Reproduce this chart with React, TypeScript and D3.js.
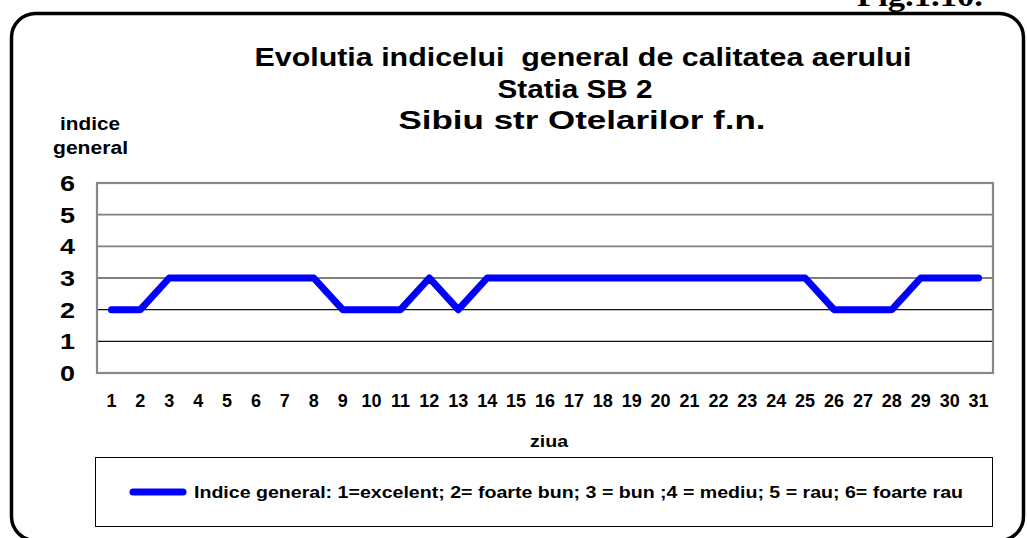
import React from "react";
import * as d3 from "d3";

const days: number[] = Array.from({ length: 31 }, (_, i) => i + 1);
const indexValues: number[] = [2, 2, 3, 3, 3, 3, 3, 3, 2, 2, 2, 3, 2, 3, 3, 3, 3, 3, 3, 3, 3, 3, 3, 3, 3, 2, 2, 2, 3, 3, 3];
const yTicks: number[] = [0, 1, 2, 3, 4, 5, 6];
const titleLines: string[] = [
  "Evolutia indicelui  general de calitatea aerului",
  "Statia SB 2",
  "Sibiu str Otelarilor f.n.",
];
const titleLengths: number[] = [657, 155, 367];
const titleCenters: number[] = [583, 575, 582];
const legendLabel = "Indice general: 1=excelent; 2= foarte bun; 3 = bun ;4 = mediu; 5 = rau; 6= foarte rau";

const W = 1027;
const H = 538;
const plot = { left: 97, right: 993, top: 183, bottom: 373 };
const FONT = "'Liberation Sans', Arial, sans-serif";

export default function App() {
  const x = d3
    .scaleBand<number>()
    .domain(days)
    .range([plot.left, plot.right]);
  const y = d3.scaleLinear().domain([0, 6]).range([plot.bottom, plot.top]);
  const line = d3
    .line<number>()
    .x((_, i) => (x(days[i]) as number) + x.bandwidth() / 2)
    .y((d) => y(d));

  return (
    <svg width={W} height={H} style={{ position: "absolute", left: 0, top: 0, background: "#fff" }}>
      <rect x={0} y={0} width={W} height={H} fill="#fff" />
      {/* outer rounded frame */}
      <rect x={11.5} y={13.5} width={1012} height={527} rx={24} ry={24} fill="none" stroke="#000" strokeWidth={3.5} />
      <text x={920} y={6} textAnchor="middle" textLength={126} lengthAdjust="spacingAndGlyphs" fontFamily="'Liberation Serif', 'Times New Roman', serif" fontWeight="bold" fontSize={30} fill="#000">
        Fig.1.10.
      </text>

      {/* title */}
      {titleLines.map((t, i) => (
        <text key={i} x={titleCenters[i]} y={66 + i * 31.5} textAnchor="middle" textLength={titleLengths[i]} lengthAdjust="spacingAndGlyphs" fontFamily={FONT} fontWeight="bold" fontSize={25} fill="#000" style={{ whiteSpace: "pre" }}>
          {t}
        </text>
      ))}

      {/* y axis title */}
      <text x={90} y={130} textAnchor="middle" textLength={60} lengthAdjust="spacingAndGlyphs" fontFamily={FONT} fontWeight="bold" fontSize={18}>indice</text>
      <text x={90.5} y={154} textAnchor="middle" textLength={75} lengthAdjust="spacingAndGlyphs" fontFamily={FONT} fontWeight="bold" fontSize={18}>general</text>

      {/* gridlines */}
      {yTicks.filter((t) => t > 0 && t < 6).map((t) => (
        <line key={t} x1={plot.left} x2={plot.right} y1={y(t)} y2={y(t)} stroke={t <= 2 ? "#111" : "#808080"} strokeWidth={t <= 2 ? 1.2 : 1.8} />
      ))}
      <rect x={plot.left} y={plot.top} width={plot.right - plot.left} height={plot.bottom - plot.top} fill="none" stroke="#888" strokeWidth={2.2} />

      {/* y tick labels */}
      {yTicks.map((t) => (
        <text key={t} x={67.5} y={y(t) + 8} textAnchor="middle" textLength={15} lengthAdjust="spacingAndGlyphs" fontFamily={FONT} fontWeight="bold" fontSize={22}>
          {t}
        </text>
      ))}

      {/* x tick labels */}
      {days.map((d) => (
        <text key={d} x={(x(d) as number) + x.bandwidth() / 2} y={407} textAnchor="middle" fontFamily={FONT} fontWeight="bold" fontSize={18}>
          {d}
        </text>
      ))}

      <text x={549} y={447} textAnchor="middle" textLength={38} lengthAdjust="spacingAndGlyphs" fontFamily={FONT} fontWeight="bold" fontSize={17}>ziua</text>

      {/* data line */}
      <path d={line(indexValues) || ""} fill="none" stroke="#0000ff" strokeWidth={7} strokeLinejoin="round" strokeLinecap="round" />

      {/* legend */}
      <rect x={95.5} y={457.5} width={897} height={69} fill="#fff" stroke="#000" strokeWidth={1} />
      <line x1={133} x2={183} y1={492} y2={492} stroke="#0000ff" strokeWidth={7} strokeLinecap="round" />
      <text x={194} y={498} textLength={769} lengthAdjust="spacingAndGlyphs" fontFamily={FONT} fontWeight="bold" fontSize={17}>{legendLabel}</text>
    </svg>
  );
}
